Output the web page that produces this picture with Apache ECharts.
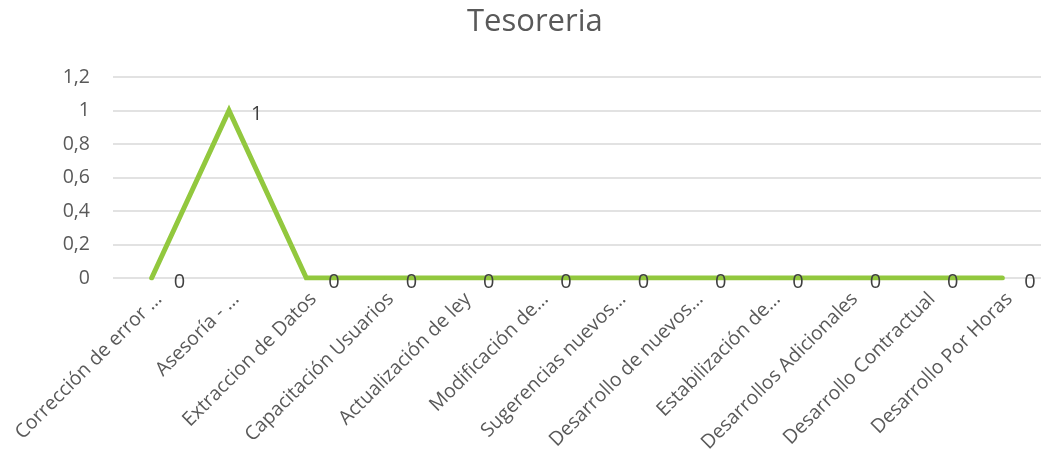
<!DOCTYPE html>
<html>
<head>
<meta charset="utf-8">
<script src="https://cdn.jsdelivr.net/npm/echarts@6/dist/echarts.min.js"></script>
<style>html,body{margin:0;padding:0;background:#fff;}#c{width:1041px;height:471px;}</style>
</head>
<body>
<div id="c"></div>
<script>
const categories = ["Corrección de error …", "Asesoría - …", "Extraccion de Datos", "Capacitación Usuarios", "Actualización de ley", "Modificación de…", "Sugerencias nuevos…", "Desarrollo de nuevos…", "Estabilización de…", "Desarrollos Adicionales", "Desarrollo Contractual", "Desarrollo Por Horas"];
const values = [0, 1, 0, 0, 0, 0, 0, 0, 0, 0, 0, 0];
const yTicks = { min: 0, max: 1.2, interval: 0.2 };
const titleText = "Tesoreria";

const fontFam = '"Open Sans", "Noto Sans", sans-serif';
const chart = echarts.init(document.getElementById('c'));
chart.setOption({
  animation: false,
  title: { text: titleText, left: 462, top: 2, textStyle: { fontFamily: fontFam, fontSize: 31, fontWeight: 'normal', color: '#595959' } },
  grid: { left: 113, right: 0, top: 77, bottom: 193, containLabel: false },
  xAxis: {
    type: 'category', data: categories, boundaryGap: true,
    axisLine: { show: false }, axisTick: { show: false },
    axisLabel: { rotate: 45, interval: 0, margin: 11, verticalAlign: 'top', fontFamily: fontFam, fontSize: 19.5, color: '#595959' }
  },
  yAxis: {
    type: 'value', min: yTicks.min, max: yTicks.max, interval: yTicks.interval,
    axisLine: { show: false }, axisTick: { show: false },
    splitLine: { lineStyle: { color: '#d9d9d9', width: 1.5 } },
    axisLabel: { margin: 23, fontFamily: fontFam, fontSize: 19.5, color: '#595959', formatter: v => String(Math.round(v * 10) / 10).replace('.', ',') }
  },
  series: [{
    type: 'line', data: values, symbol: 'circle', symbolSize: 2, showSymbol: true,
    lineStyle: { color: '#92C83E', width: 5, cap: 'round', join: 'miter' },
    itemStyle: { color: '#92C83E' },
    label: { show: true, position: 'right', distance: 21, offset: [0, 4], fontFamily: fontFam, fontSize: 20, color: '#404040' }
  }]
});
</script>
</body>
</html>
